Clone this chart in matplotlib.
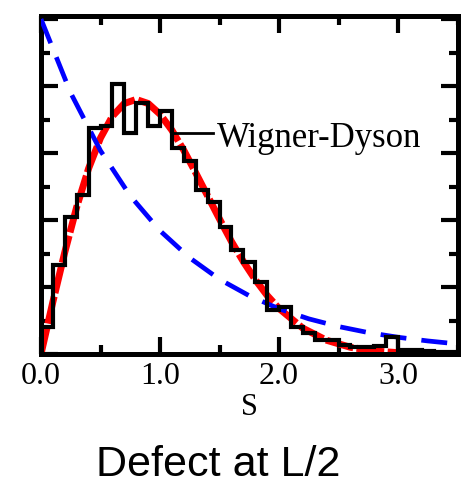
import matplotlib
matplotlib.use('Agg')
import matplotlib.pyplot as plt

# histogram of level spacings, bins of 0.1
bin_edges = [0.0, 0.1, 0.2, 0.3, 0.4, 0.5, 0.6, 0.7, 0.8, 0.9, 1.0, 1.1, 1.2,
             1.3, 1.4, 1.5, 1.6, 1.7, 1.8, 1.9, 2.0, 2.1, 2.2, 2.3, 2.4, 2.5,
             2.6, 2.7, 2.8, 2.9, 3.0, 3.1, 3.2, 3.3, 3.4, 3.5]
hist_vals = [0.08, 0.265, 0.41, 0.475, 0.675, 0.68, 0.805, 0.66, 0.75, 0.68,
             0.725, 0.615, 0.575, 0.49, 0.455, 0.38, 0.31, 0.275, 0.215, 0.13,
             0.14, 0.082, 0.062, 0.042, 0.042, 0.027, 0.02, 0.022, 0.025, 0.05,
             0.012, 0.012, 0.01, 0.006, 0.005]

# Wigner-Dyson curve (red)
wd_s = [0.0, 0.1, 0.2, 0.3, 0.4, 0.5, 0.6, 0.7, 0.8, 0.9, 1.0, 1.1, 1.2, 1.3,
        1.4, 1.5, 1.6, 1.7, 1.8, 1.9, 2.0, 2.2, 2.4, 2.6, 2.8, 3.0, 3.5]
wd_p = [0.0, 0.156, 0.304, 0.439, 0.554, 0.645, 0.71, 0.748, 0.76, 0.748,
        0.716, 0.668, 0.608, 0.541, 0.472, 0.403, 0.336, 0.276, 0.222, 0.175,
        0.136, 0.077, 0.041, 0.02, 0.009, 0.004, 0.0003]

# Poisson curve (blue dashed)
po_s = [0.0, 0.25, 0.5, 0.75, 1.0, 1.25, 1.5, 1.75, 2.0, 2.25, 2.5, 2.75,
        3.0, 3.25, 3.5]
po_p = [1.0, 0.779, 0.607, 0.472, 0.368, 0.287, 0.223, 0.174, 0.135, 0.105,
        0.082, 0.064, 0.05, 0.039, 0.03]

serif = 'Liberation Serif'

fig = plt.figure(figsize=(4.75, 4.91), dpi=100)
ax = fig.add_axes([0.0863, 0.279, 0.877, 0.689])

ax.plot(wd_s, wd_p, color='red', lw=5, dashes=(4, 0.5), zorder=2)
ax.plot(po_s, po_p, color='blue', lw=3.4, dashes=(5.5, 3.2), zorder=3)
ax.stairs(hist_vals, bin_edges, baseline=None, color='black', lw=3, zorder=4)

# label for the Wigner-Dyson curve
ax.plot([1.105, 1.445], [0.66, 0.66], color='black', lw=2, zorder=5)
ax.text(1.475, 0.617, 'Wigner-Dyson', fontsize=25, family=serif,
        va='baseline', ha='left')

ax.set_xlim(0, 3.5)
ax.set_ylim(0, 1.01)
ax.set_xticks([0, 1, 2, 3])
ax.set_xticklabels(['0.0', '1.0', '2.0', '3.0'], family=serif, fontsize=23)
ax.set_xticks([0.5, 1.5, 2.5, 3.5], minor=True)
ax.set_yticks([0, 0.2, 0.4, 0.6, 0.8, 1.0])
ax.set_yticks([0.1, 0.3, 0.5, 0.7, 0.9], minor=True)
ax.set_yticklabels([])
ax.tick_params(which='both', direction='in', top=True, right=True, width=3)
ax.tick_params(which='major', length=12, pad=6)
ax.tick_params(which='minor', length=6.5)
for sp in ax.spines.values():
    sp.set_linewidth(3.6)

ax.set_xlabel('S', family=serif, fontsize=22, labelpad=1)

fig.text(0.46, 0.03, 'Defect at L/2', fontsize=31, family='Liberation Sans',
         ha='center', va='baseline')

fig.savefig('out.png', dpi=100)
